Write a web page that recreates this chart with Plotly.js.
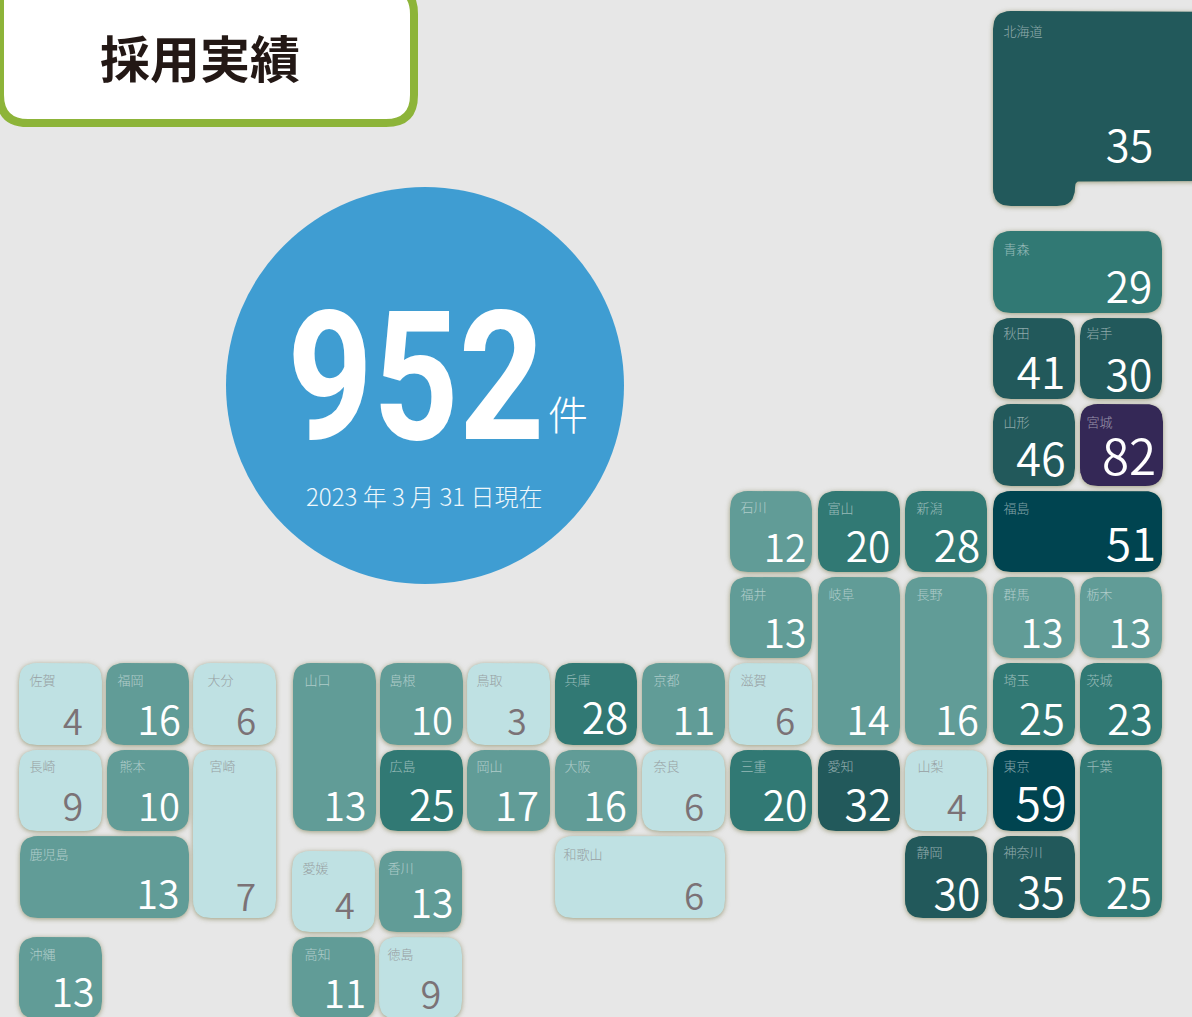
<!DOCTYPE html>
<html lang="ja">
<head>
<meta charset="utf-8">
<script src="https://cdn.plot.ly/plotly-3.0.1.min.js"></script>
<style>
html,body{margin:0;padding:0;background:#e7e7e7;overflow:hidden}
#chart{width:1192px;height:1017px}
#chart .scatterlayer .js-fill{filter:drop-shadow(0 1px 2.5px rgba(125,125,80,.7))}
#chart .annotation[data-index="1"] text{transform:scaleX(.83);transform-box:fill-box;transform-origin:center}
</style>
</head>
<body>
<div id="chart"></div>
<script>
const prefectures = ['北海道','青森','秋田','岩手','山形','宮城','福島','新潟','富山','石川','福井','岐阜','長野','群馬','栃木','滋賀','埼玉','茨城','山梨','三重','愛知','東京','千葉','静岡','神奈川','京都','兵庫','鳥取','島根','山口','広島','岡山','大阪','奈良','和歌山','香川','愛媛','高知','徳島','佐賀','福岡','大分','長崎','熊本','宮崎','鹿児島','沖縄'];
const counts = [35,29,41,30,46,82,51,28,20,12,13,14,16,13,13,6,25,23,4,20,32,59,25,30,35,11,28,3,10,13,25,17,16,6,6,13,4,11,9,4,16,6,9,10,7,13,13];
const totalCount = '952';
const totalUnit = '件';
const asOf = '2023 年 3 月 31 日現在';
const heading = '採用実績';

// Tile layout on the page (left, top, right, bottom), separate from the data
const tileBoxes = [[993,11,1215,181],[993,231,1162,313],[993,318,1075,399],[1080,318,1162,399],[993,404,1075,486],[1080,404,1163,486],[993,491,1162,572],[905,491,987,572],[818,491,900,572],[730,491,812,572],[730,577,812,658],[818,577,900,745],[905,577,987,745],[993,577,1075,658],[1080,577,1162,658],[729,663,812,745],[993,663,1075,745],[1080,663,1162,745],[905,750,987,831],[730,750,812,831],[818,750,900,831],[993,750,1075,831],[1080,750,1162,917],[905,836,987,918],[993,836,1075,918],[642,663,725,745],[555,663,637,745],[467,663,550,745],[380,663,463,745],[293,663,376,831],[380,750,463,831],[467,750,550,831],[555,750,637,831],[642,750,725,831],[555,836,725,918],[379,851,462,932],[292,851,375,932],[292,937,375,1019],[379,937,462,1019],[19,663,102,745],[106,663,189,745],[193,663,276,745],[19,750,102,831],[107,750,189,831],[193,750,276,918],[20,836,189,918],[19,937,102,1019]];
const labelX = [1003.5,1003.5,1003.5,1086.5,1003.5,1086.5,1003.5,916.5,827.5,740.5,740.5,828.5,916.5,1003.5,1086.5,740.5,1003.5,1086.5,917.5,740.5,827.5,1003.5,1086.5,916.5,1003.5,653.5,564.5,476.5,389.5,304.5,389.5,476.5,564.5,653.5,563.5,387.5,302.5,304.5,387.5,29.5,117.5,207.5,29.5,119.5,209.5,29.5,29.5];
const labelY = [33,251,335,335,424,424,510,510,510,509,596,596,596,596,596,682,682,682,768,768,768,768,768,854,854,682,682,682,682,682,768,768,768,768,856,870,870,956,956,682,682,682,768,768,768,856,956];
// Per-tile offsets of the figure from the tile's foot and right side
const figureLift = [15,6,6,4,5,6,6,6,6,6,6,6,6,6,6,6,6,6,6,6,6,5,4,4,5,6,7,6,6,6,6,6,6,6,4,10,9,7,6,6,6,6,6,6,3,5,8];
const figureInset = [32.5,33,34,33,34,33,31,30,32,27,27,32,30,33,32,27,33,32,30,27,32,34,33,30,34,31,32,33,31,31,31,33,32,31,31,30,30,30,31,29,30,30,29,30,30,31,29];

const binLimits = [10,20,30,50,80,Infinity];
const binColors = ['#bfe1e3','#619c97','#317974','#22595b','#004450','#342856'];
const binOf = v => binLimits.findIndex(l => v < l);

function roundedOutline(verts, r){
  const xs=[], ys=[], n=verts.length;
  verts.forEach((p,i)=>{
    const a=verts[(i+n-1)%n], b=verts[(i+1)%n];
    const da=Math.hypot(a[0]-p[0],a[1]-p[1]), db=Math.hypot(b[0]-p[0],b[1]-p[1]);
    const rr=Array.isArray(r)?r[i]:r;
    const s=[p[0]+(a[0]-p[0])*rr/da,p[1]+(a[1]-p[1])*rr/da];
    const e=[p[0]+(b[0]-p[0])*rr/db,p[1]+(b[1]-p[1])*rr/db];
    for(let k=0;k<=8;k++){
      const t=k/8;
      xs.push((1-t)*(1-t)*s[0]+2*t*(1-t)*p[0]+t*t*e[0]);
      ys.push((1-t)*(1-t)*s[1]+2*t*(1-t)*p[1]+t*t*e[1]);
    }
  });
  xs.push(xs[0],null); ys.push(ys[0],null);
  return [xs,ys];
}
function outlineOf(i){
  const [l,t,r,b]=tileBoxes[i];
  if(prefectures[i]==='北海道'){
    return roundedOutline([[l,t],[r,t],[r,b],[1075,b],[1075,206],[l,206]],[18,1,1,6,18,18]);
  }
  return roundedOutline([[l,t],[r,t],[r,b],[l,b]],18);
}

const traces=[];
binColors.forEach((color,bin)=>{
  const x=[],y=[];
  counts.forEach((v,i)=>{ if(binOf(v)===bin){const o=outlineOf(i); x.push(...o[0]); y.push(...o[1]);} });
  traces.push({type:'scatter',mode:'lines',x,y,fill:'toself',fillcolor:color,line:{width:0,color},hoverinfo:'skip',showlegend:false});
});

const valueSize = v => 36 + (Math.sqrt(v)-2)*1.9;
const NUM_FONT = '"Noto Sans CJK JP","Noto Sans",sans-serif';
traces.push({
  type:'scatter',mode:'text',x:labelX,y:labelY,text:prefectures,textposition:'middle right',
  textfont:{family:NUM_FONT,size:13,weight:300,color:counts.map(v=>binOf(v)===0?'#979fa2':'rgba(255,255,255,0.5)')},
  hoverinfo:'skip',showlegend:false,cliponaxis:false
});
traces.push({
  type:'scatter',mode:'text',
  x:tileBoxes.map((b,i)=>Math.min(b[2],1162)-figureInset[i]),
  y:counts.map((v,i)=>tileBoxes[i][3]-figureLift[i]-0.35*valueSize(v)),
  text:counts.map(String),textposition:'middle center',
  textfont:{family:NUM_FONT,size:counts.map(valueSize),weight:350,color:counts.map(v=>binOf(v)===0?'#7b7276':'#ffffff')},
  hoverinfo:'skip',showlegend:false,cliponaxis:false
});

const layout={
  width:1192,height:1017,margin:{l:0,r:0,t:0,b:0},
  paper_bgcolor:'#e7e7e7',plot_bgcolor:'#e7e7e7',showlegend:false,
  xaxis:{range:[0,1192],visible:false,fixedrange:true},
  yaxis:{range:[1017,0],visible:false,fixedrange:true},
  shapes:[
    {type:'circle',xref:'x',yref:'y',x0:226,x1:624,y0:187,y1:584,fillcolor:'#3f9dd2',line:{width:0},layer:'below'},
    {type:'path',xref:'x',yref:'y',layer:'below',fillcolor:'#ffffff',line:{color:'#8db439',width:8},
     path:'M 0 -14 H 386 Q 414 -14 414 14 V 95 Q 414 123 386 123 H 28 Q 0 123 0 95 Z'}
  ],
  annotations:[
    {x:200,y:56,xref:'x',yref:'y',text:heading,showarrow:false,font:{family:'"Noto Sans CJK JP"',size:50,weight:700,color:'#231815'}},
    {x:416,y:377,xref:'x',yref:'y',text:totalCount,showarrow:false,font:{family:'Roboto,"Noto Sans CJK JP"',size:180,weight:700,color:'#ffffff'}},
    {x:568,y:413,xref:'x',yref:'y',text:totalUnit,showarrow:false,font:{family:NUM_FONT,size:40,weight:300,color:'#ffffff'}},
    {x:423.5,y:495,xref:'x',yref:'y',text:asOf,showarrow:false,font:{family:NUM_FONT,size:24,weight:300,color:'#eef7fb'}}
  ]
};
Plotly.newPlot('chart',traces,layout,{displayModeBar:false,staticPlot:true});
</script>
</body>
</html>
